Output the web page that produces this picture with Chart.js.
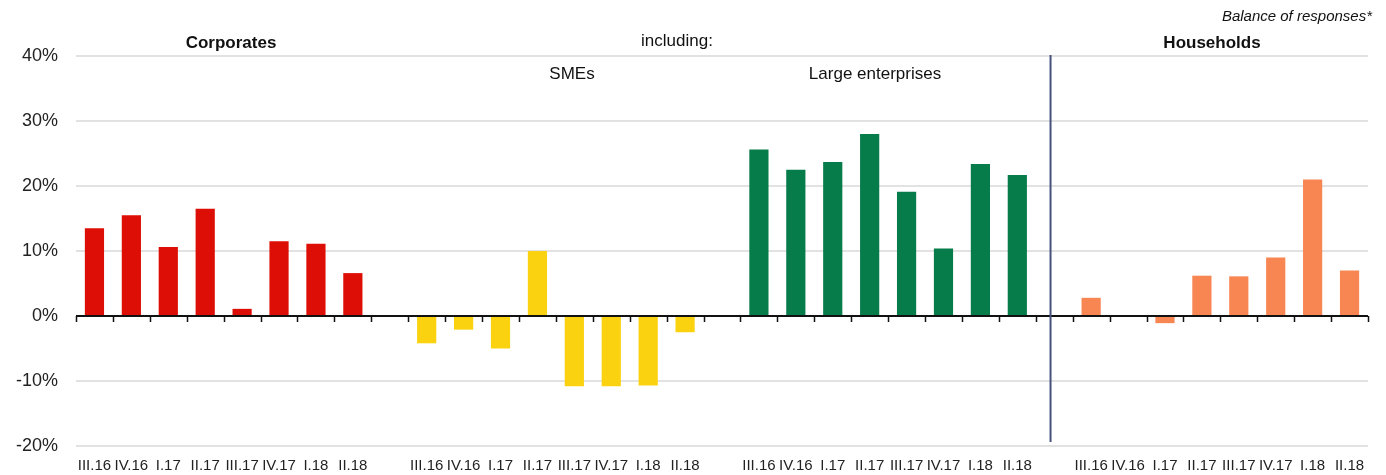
<!DOCTYPE html>
<html>
<head>
<meta charset="utf-8">
<script src="https://cdn.jsdelivr.net/npm/chart.js@4.4.0/dist/chart.umd.min.js"></script>
<style>
	html, body { margin: 0; padding: 0; background: #fff; }
	#wrap { width: 1386px; height: 475px; position: relative; }
</style>
</head>
<body>
<div id="wrap"><canvas id="barChart"></canvas></div>
<script>
// quarters repeated in each panel
const quarters = ['III.16', 'IV.16', 'I.17', 'II.17', 'III.17', 'IV.17', 'I.18', 'II.18'];
const corporates = [13.5, 15.5, 10.6, 16.5, 1.1, 11.5, 11.1, 6.6];
const smes = [-4.2, -2.1, -5.0, 10.0, -10.8, -10.8, -10.7, -2.5];
const largeEnterprises = [25.6, 22.5, 23.7, 28.0, 19.1, 10.4, 23.4, 21.7];
const households = [2.8, 0, -1.1, 6.2, 6.1, 9.0, 21.0, 7.0];
const yTicks = [-20, -10, 0, 10, 20, 30, 40];

const groups = [corporates, smes, largeEnterprises, households];
const colors = ['#dd0e05', '#fad20f', '#067c4a', '#f88652'];

// 8 quarters per panel, one empty slot between panels
const labels = [];
groups.forEach((g, gi) => {
	quarters.forEach(q => labels.push(q));
	if (gi < groups.length - 1) labels.push('');
});

function spread(values, gi) {
	const out = new Array(labels.length).fill(null);
	values.forEach((v, i) => { out[gi * 9 + i] = v; });
	return out;
}

const font = "'Liberation Sans', Arial, sans-serif";
const narrowFont = "'Liberation Sans Narrow', 'Arial Narrow', 'Liberation Sans', sans-serif";

const decorPlugin = {
	id: 'decor',
	afterDatasetsDraw(chart) {
		const { ctx, chartArea, scales: { x, y } } = chart;
		const zeroY = y.getPixelForValue(0);
		ctx.save();
		// zero line
		ctx.strokeStyle = '#111';
		ctx.lineWidth = 2;
		ctx.beginPath();
		ctx.moveTo(chartArea.left, zeroY);
		ctx.lineTo(chartArea.right, zeroY);
		ctx.stroke();
		// tick marks at category boundaries
		ctx.lineWidth = 1.5;
		for (let i = 0; i <= labels.length; i++) {
			const px = Math.round(x.getPixelForValue(i - 0.5)) + 0.5;
			ctx.beginPath();
			ctx.moveTo(px, zeroY);
			ctx.lineTo(px, zeroY + 6);
			ctx.stroke();
		}
		// separator between corporates and households
		const sepX = x.getPixelForValue(26 - 0.1);
		ctx.strokeStyle = '#46537a';
		ctx.lineWidth = 2;
		ctx.beginPath();
		ctx.moveTo(sepX, chartArea.top - 1);
		ctx.lineTo(sepX, y.getPixelForValue(-19.4));
		ctx.stroke();
		ctx.restore();
	},
	afterDraw(chart) {
		const { ctx } = chart;
		ctx.save();
		ctx.fillStyle = '#111';
		ctx.textBaseline = 'middle';
		ctx.textAlign = 'center';
		ctx.font = "bold 17px " + font;
		ctx.fillText('Corporates', 231, 43);
		ctx.fillText('Households', 1212, 43);
		ctx.font = "17px " + font;
		ctx.fillText('including:', 677, 41);
		ctx.fillText('SMEs', 572, 74);
		ctx.fillText('Large enterprises', 875, 74);
		ctx.textAlign = 'right';
		ctx.font = "italic 15px " + font;
		ctx.fillText('Balance of responses*', 1372, 17);
		ctx.restore();
	}
};

new Chart(document.getElementById('barChart'), {
	type: 'bar',
	data: {
		labels: labels,
		datasets: groups.map((g, gi) => ({
			data: spread(g, gi),
			backgroundColor: colors[gi],
			borderWidth: 0,
			grouped: false,
			barPercentage: 0.52,
			categoryPercentage: 1,
		}))
	},
	options: {
		responsive: true,
		maintainAspectRatio: false,
		animation: false,
		layout: { padding: { top: 56, right: 18, left: 0, bottom: 0 } },
		plugins: {
			legend: { display: false },
			tooltip: { enabled: false }
		},
		scales: {
			x: {
				grid: { display: false },
				border: { display: false },
				ticks: {
					autoSkip: false,
					maxRotation: 0,
					minRotation: 0,
					padding: 3,
					color: '#222',
					font: { family: narrowFont, size: 15 }
				},
				afterFit(scale) { scale.height = 29; }
			},
			y: {
				min: yTicks[0],
				max: yTicks[yTicks.length - 1],
				afterBuildTicks(scale) { scale.ticks = yTicks.map(v => ({ value: v })); },
				grid: { color: '#e2e2e2', lineWidth: 2, drawTicks: false },
				border: { display: false },
				ticks: {
					padding: 18,
					color: '#222',
					font: { family: font, size: 18 },
					callback: v => v + '%'
				},
				afterFit(scale) { scale.width = 76; }
			}
		}
	},
	plugins: [decorPlugin]
});
</script>
</body>
</html>
